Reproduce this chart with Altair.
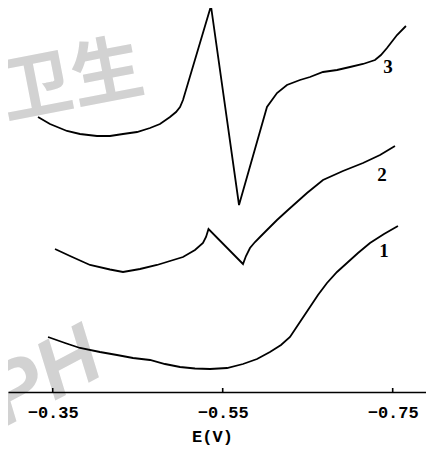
import altair as alt
import pandas as pd

# ---- data (E in volts, I in arbitrary units) ----
c1_E = [-0.3445, -0.3645, -0.3821, -0.4056, -0.4256, -0.4445, -0.4645, -0.4821, -0.4998,
        -0.5174, -0.5351, -0.5551, -0.5739, -0.5904, -0.6056, -0.6186, -0.6292, -0.6409,
        -0.6527, -0.6621, -0.6727, -0.6845, -0.6962, -0.7092, -0.7233, -0.7398, -0.7562]
c1_I = [5.5, 4.9, 4.4, 4.0, 3.7, 3.4, 3.2, 2.8, 2.5,
        2.35, 2.3, 2.4, 2.8, 3.3, 4.0, 4.7, 5.5, 7.0,
        8.5, 9.7, 10.9, 12.0, 12.9, 13.9, 14.9, 15.8, 16.6]

c2_E = [-0.3527, -0.3704, -0.3939, -0.4174, -0.4327, -0.4527, -0.4727, -0.4880, -0.5033,
        -0.5174, -0.5268, -0.5304, -0.5333, -0.5739, -0.5774, -0.5821, -0.5880, -0.5939,
        -0.6021, -0.6139, -0.6268, -0.6492, -0.6680, -0.6915, -0.7151, -0.7351, -0.7527]
c2_I = [14.3, 13.6, 12.7, 12.25, 12.0, 12.3, 12.7, 13.1, 13.5,
        14.2, 14.9, 15.5, 16.3, 12.8, 13.6, 14.4, 15.0, 15.5,
        16.2, 17.2, 18.2, 19.9, 21.2, 22.1, 22.9, 23.7, 24.6]

c3_E = [-0.3327, -0.3468, -0.3668, -0.3821, -0.4021, -0.4174, -0.4327, -0.4492, -0.4645,
        -0.4762, -0.4880, -0.4951, -0.4998, -0.5033, -0.5362, -0.5692, -0.6021, -0.6139,
        -0.6256, -0.6409, -0.6527, -0.6680, -0.6845, -0.6998, -0.7151, -0.7292, -0.7362,
        -0.7433, -0.7551, -0.7656]
c3_I = [27.5, 26.8, 26.1, 25.8, 25.6, 25.6, 25.8, 26.0, 26.4,
        26.8, 27.5, 28.0, 28.5, 29.2, 38.6, 18.7, 28.5, 29.9,
        30.7, 31.2, 31.5, 32.0, 32.2, 32.5, 32.8, 33.2, 33.7,
        34.4, 35.7, 36.6]

curve_names = ["1", "2", "3"]
label_E = [-0.7398, -0.7374, -0.7445]
label_I = [14.1, 21.7, 32.5]

tick_values = [-0.35, -0.55, -0.75]

watermark_text = ["卫生", "PH"]
watermark_E = [-0.3727, -0.3400]
watermark_I = [31.0, 1.4]

# ---- tables ----
rows = []
for name, Es, Is in zip(curve_names, [c1_E, c2_E, c3_E], [c1_I, c2_I, c3_I]):
    for k, (e, i) in enumerate(zip(Es, Is)):
        rows.append({"curve": name, "E": e, "I": i, "idx": k})
curves = pd.DataFrame(rows)
labels = pd.DataFrame({"curve": curve_names, "E": label_E, "I": label_I})
ticks = pd.DataFrame({"E": tick_values})
wm = pd.DataFrame({"text": watermark_text, "E": watermark_E, "I": watermark_I})

x_scale = alt.Scale(domain=[-0.2974, -0.7892], nice=False, zero=False)
y_scale = alt.Scale(domain=[0, 38.4], nice=False, zero=False)

x_axis = alt.Axis(
    values=tick_values, format=".2f", title="E(V)", grid=False, ticks=False,
    domainColor="black", domainWidth=1.6, labelFont="Liberation Mono",
    labelFontSize=17, labelColor="black", labelPadding=12, labelFontWeight="bold",
    titleFont="Liberation Mono", titleFontSize=17, titleFontWeight="bold",
    titleColor="black", titleX=204, titleY=44, titleBaseline="middle",
    titleAnchor="middle", zindex=1,
)


def X():
    return alt.X("E:Q", scale=x_scale, axis=x_axis)


def Y():
    return alt.Y("I:Q", scale=y_scale, axis=None)


wm_layer = alt.Chart(wm).mark_text(
    font="Noto Sans CJK SC", fontSize=72, fontWeight="bold", color="#d2d2d2",
    angle=349, align="center", baseline="middle",
).encode(x=X(), y=Y(), text="text:N").transform_filter(alt.datum.text == "卫生")

wm_layer2 = alt.Chart(wm).mark_text(
    font="Liberation Sans", fontSize=84, fontWeight="bold", fontStyle="italic",
    color="#d2d2d2", angle=332, align="center", baseline="middle",
).encode(x=X(), y=Y(), text="text:N").transform_filter(alt.datum.text == "PH")

lines = alt.Chart(curves).mark_line(
    color="black", strokeWidth=1.8, interpolate="linear", clip=False,
).encode(x=X(), y=Y(), detail="curve:N", order="idx:Q")

tick_layer = alt.Chart(ticks).mark_rule(color="black", strokeWidth=1.6).encode(
    x=X(), y=alt.value(380), y2=alt.value(384)
)

label_layer = alt.Chart(labels).mark_text(
    font="Liberation Serif", fontSize=19, fontWeight="bold", color="black",
    align="center", baseline="middle",
).encode(x=X(), y=Y(), text="curve:N")

chart = alt.layer(wm_layer, wm_layer2, lines, tick_layer, label_layer).properties(
    width=418, height=384,
    autosize=alt.AutoSizeParams(type="none"),
    padding={"left": 0, "top": 0, "right": 0, "bottom": 56},
).configure_view(stroke=None)

chart.save("out.html", embed_options={"renderer": "svg", "actions": False})
